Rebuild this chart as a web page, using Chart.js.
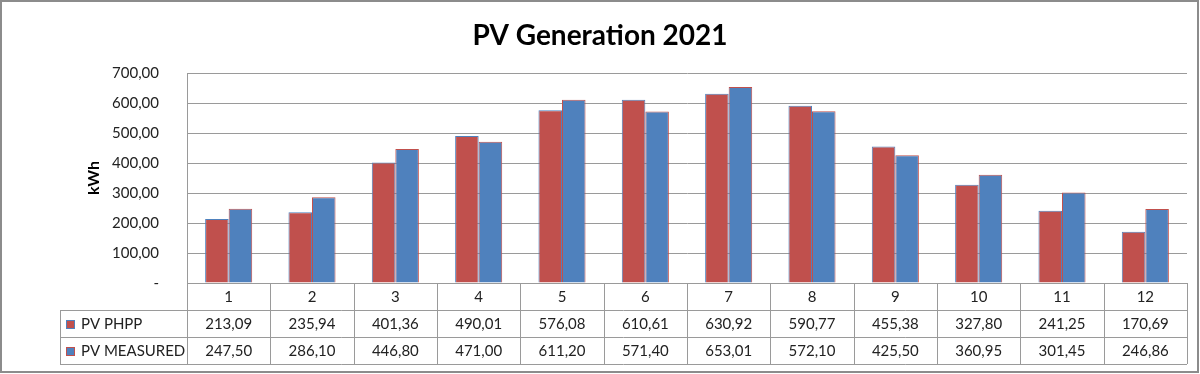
<!DOCTYPE html>
<html>
<head>
<meta charset="utf-8">
<script src="https://cdn.jsdelivr.net/npm/chart.js@4.4.1/dist/chart.umd.min.js"></script>
<style>
  html, body { margin: 0; padding: 0; background: #fff; }
  #wrap { width: 1200px; height: 374px; }
</style>
</head>
<body>
<div id="wrap"><canvas id="pvChart" width="1200" height="374"></canvas></div>
<script>
const months = ["1", "2", "3", "4", "5", "6", "7", "8", "9", "10", "11", "12"];
const pvPhpp = [213.09, 235.94, 401.36, 490.01, 576.08, 610.61, 630.92, 590.77, 455.38, 327.80, 241.25, 170.69];
const pvMeasured = [247.50, 286.10, 446.80, 471.00, 611.20, 571.40, 653.01, 572.10, 425.50, 360.95, 301.45, 246.86];
const seriesNames = ["PV PHPP", "PV MEASURED"];
const chartTitle = "PV Generation 2021";

const RED = "#C0504D";
const BLUE = "#4F81BD";
const GRID = "#9a9a9a";
const TEXT = "#222222";
const FONT = "Lato, 'Open Sans', sans-serif";

function fmt(v) {
  if (v === 0) return "-";
  return v.toFixed(2).replace(".", ",");
}

// title, data table under the plot (aligned to the x scale) and outer frame
const dataTable = {
  id: "dataTable",
  afterDraw(chart) {
    const ctx = chart.ctx;
    const area = chart.chartArea;
    const x = chart.scales.x;
    const rowH = 27;
    const labelLeft = 60;
    const top = area.bottom;
    const colW = (area.right - area.left) / months.length;

    ctx.save();

    // title is centred on the whole picture, not on the plot
    ctx.fillStyle = "#000";
    ctx.font = "bold 28px " + FONT;
    ctx.textAlign = "center";
    ctx.textBaseline = "alphabetic";
    ctx.fillText(chartTitle, 600, 45);

    ctx.strokeStyle = GRID;
    ctx.lineWidth = 1;

    function line(x1, y1, x2, y2) {
      ctx.beginPath();
      ctx.moveTo(x1, y1);
      ctx.lineTo(x2, y2);
      ctx.stroke();
    }

    for (let r = 1; r <= 3; r++) {
      const y = Math.round(top + r * rowH) + 0.5;
      line(labelLeft, y, area.right, y);
    }
    line(labelLeft + 0.5, top + rowH, labelLeft + 0.5, top + 3 * rowH);
    for (let i = 0; i <= months.length; i++) {
      const xx = Math.round(area.left + i * colW) + 0.5;
      line(xx, top, xx, top + 3 * rowH);
    }

    ctx.fillStyle = TEXT;
    ctx.font = "15px " + FONT;
    ctx.textAlign = "center";
    ctx.textBaseline = "middle";
    months.forEach((m, i) => {
      ctx.fillText(m, x.getPixelForValue(i), top + rowH / 2 + 1);
    });

    const rows = [pvPhpp, pvMeasured];
    const fills = [RED, BLUE];
    const edges = [BLUE, RED];
    rows.forEach((vals, r) => {
      const cy = top + rowH * (r + 1) + rowH / 2 + 1;
      ctx.textAlign = "center";
      ctx.fillStyle = TEXT;
      vals.forEach((v, i) => {
        ctx.fillText(fmt(v), x.getPixelForValue(i), cy);
      });
      // legend key + series name
      ctx.fillStyle = fills[r];
      ctx.fillRect(66, Math.round(cy - 5), 9, 9);
      ctx.strokeStyle = edges[r];
      ctx.strokeRect(66.5, Math.round(cy - 5) + 0.5, 8, 8);
      ctx.fillStyle = TEXT;
      ctx.textAlign = "left";
      ctx.fillText(seriesNames[r], 81, cy);
    });

    // outer frame
    ctx.strokeStyle = "#8c8c8c";
    ctx.lineWidth = 2;
    ctx.strokeRect(1, 1, 1197, 371);
    ctx.restore();
  }
};

const ctx = document.getElementById("pvChart").getContext("2d");

new Chart(ctx, {
  type: "bar",
  data: {
    labels: months,
    datasets: [
      {
        label: seriesNames[0],
        data: pvPhpp,
        backgroundColor: RED,
        borderColor: BLUE,
        borderWidth: 1
      },
      {
        label: seriesNames[1],
        data: pvMeasured,
        backgroundColor: BLUE,
        borderColor: RED,
        borderWidth: 1
      }
    ]
  },
  options: {
    responsive: false,
    animation: false,
    devicePixelRatio: 1,
    layout: {
      padding: { left: 60, right: 13, top: 73, bottom: 91 }
    },
    datasets: {
      bar: { categoryPercentage: 0.565, barPercentage: 1 }
    },
    plugins: {
      legend: { display: false },
      tooltip: { enabled: false },
      title: { display: false }
    },
    scales: {
      x: { display: false },
      y: {
        min: 0,
        max: 700,
        ticks: {
          stepSize: 100,
          color: TEXT,
          padding: 28,
          font: { family: FONT, size: 15 },
          callback: (v) => fmt(v)
        },
        grid: { color: GRID, drawTicks: false },
        border: { color: GRID },
        title: {
          display: true,
          text: "kWh",
          color: "#000",
          font: { family: FONT, size: 16, weight: "bold" },
          padding: { top: 24 }
        },
        afterFit(scale) {
          scale.width = 127;
        }
      }
    }
  },
  plugins: [dataTable]
});
</script>
</body>
</html>
